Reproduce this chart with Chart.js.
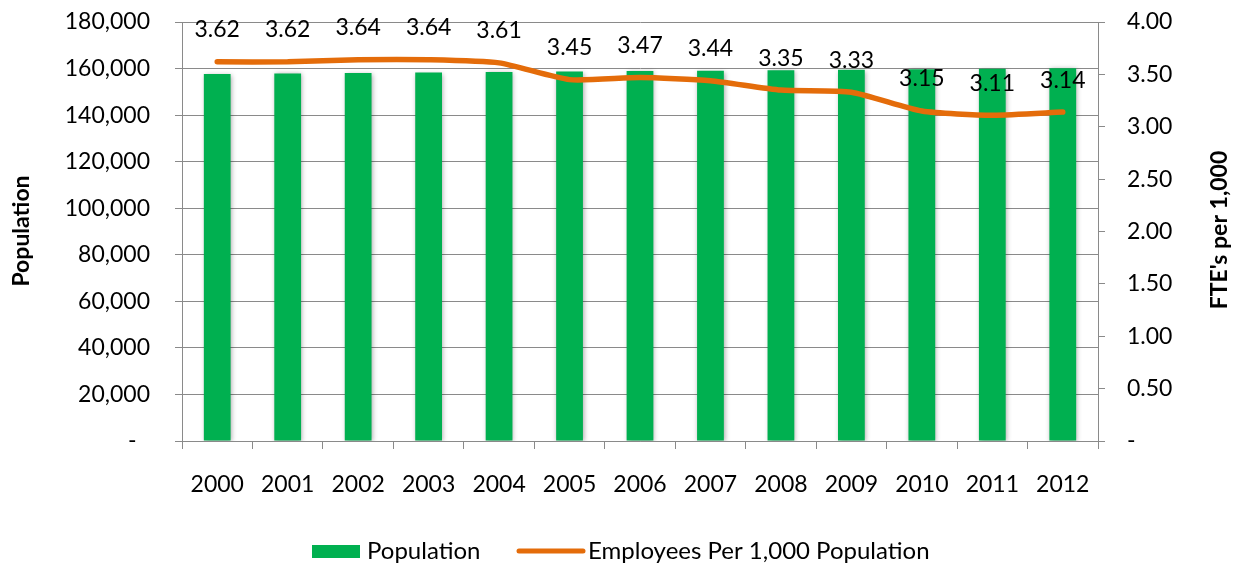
<!DOCTYPE html>
<html>
<head>
<meta charset="utf-8">
<script src="https://cdn.jsdelivr.net/npm/chart.js@4/dist/chart.umd.min.js"></script>
<style>
  html, body { margin: 0; padding: 0; background: #fff; }
  #wrap { width: 1235px; height: 567px; }
</style>
</head>
<body>
<div id="wrap"><canvas id="myChart" width="1235" height="567"></canvas></div>
<script>
//chart data
var years = ['2000', '2001', '2002', '2003', '2004', '2005', '2006', '2007', '2008', '2009', '2010', '2011', '2012'];
var population = [157700, 157900, 158100, 158300, 158500, 158700, 158900, 159100, 159300, 159500, 159700, 159900, 160100];
var employeesPer1000 = [3.62, 3.62, 3.64, 3.64, 3.61, 3.45, 3.47, 3.44, 3.35, 3.33, 3.15, 3.11, 3.14];
var popTicks = [0, 20000, 40000, 60000, 80000, 100000, 120000, 140000, 160000, 180000];
var fteTicks = [0, 0.5, 1, 1.5, 2, 2.5, 3, 3.5, 4];

var FONT = 'Lato, "Noto Sans", sans-serif';
var GREEN = '#00b050';
var ORANGE = '#e46c0a';
var GRID = '#8a8a8a';

//soft shadow under the bars
var barShadow = {
    id: 'barShadow',
    beforeDatasetDraw: function(chart, args){
        if(args.meta.type !== 'bar') return;
        var ctx = chart.ctx;
        ctx.save();
        ctx.shadowColor = 'rgba(0,0,0,0.35)';
        ctx.shadowBlur = 5;
        ctx.shadowOffsetX = 1;
        ctx.shadowOffsetY = 1;
    },
    afterDatasetDraw: function(chart, args){
        if(args.meta.type !== 'bar') return;
        chart.ctx.restore();
    }
};

//value labels over the line
var lineLabels = {
    id: 'lineLabels',
    afterDatasetsDraw: function(chart){
        var ctx = chart.ctx;
        var meta = chart.getDatasetMeta(1);
        ctx.save();
        ctx.font = '23px ' + FONT;
        ctx.fillStyle = '#000';
        ctx.textAlign = 'center';
        ctx.textBaseline = 'middle';
        meta.data.forEach(function(pt, i){
            ctx.fillText(employeesPer1000[i].toFixed(2), pt.x, pt.y - 32);
        });
        ctx.restore();
    }
};

//axis titles (both read bottom to top) and legend
var extras = {
    id: 'extras',
    afterDraw: function(chart){
        var ctx = chart.ctx;
        ctx.save();
        ctx.fillStyle = '#000';
        ctx.font = 'bold 23px ' + FONT;
        ctx.textAlign = 'center';
        ctx.textBaseline = 'middle';
        [['Population', 22, 231], ["FTE's per 1,000", 1220, 230]].forEach(function(t){
            ctx.save();
            ctx.translate(t[1], t[2]);
            ctx.rotate(-Math.PI / 2);
            ctx.fillText(t[0], 0, 0);
            ctx.restore();
        });

        var ds = chart.data.datasets;
        var y = 551;
        var x = 312;
        ctx.font = '24px ' + FONT;
        ctx.textAlign = 'left';
        ctx.fillStyle = ds[0].backgroundColor;
        ctx.fillRect(x, y - 6, 48, 13);
        ctx.fillStyle = '#000';
        ctx.fillText(ds[0].label, x + 55, y);
        x = 517;
        ctx.strokeStyle = ds[1].borderColor;
        ctx.lineWidth = 5;
        ctx.lineCap = 'round';
        ctx.beginPath();
        ctx.moveTo(x + 2, y);
        ctx.lineTo(x + 66, y);
        ctx.stroke();
        ctx.fillText(ds[1].label, x + 71, y);
        ctx.restore();
    }
};

//fixed axis widths; drop the label padding from the vertical overhang
function fitY(width){
    return function(s){
        s.width = width;
        s.paddingTop = 14;
        s.paddingBottom = 14;
    };
}

var ctx = document.getElementById('myChart');
var myChart = new Chart(ctx, {
    type: 'bar',
    data: {
        labels: years,
        datasets: [{
            type: 'bar',
            label: 'Population',
            data: population,
            backgroundColor: GREEN,
            borderWidth: 0,
            barPercentage: 0.38,
            categoryPercentage: 1,
            yAxisID: 'y',
            order: 1
        }, {
            type: 'line',
            label: 'Employees Per 1,000 Population',
            data: employeesPer1000,
            borderColor: ORANGE,
            backgroundColor: ORANGE,
            borderWidth: 5.5,
            borderCapStyle: 'round',
            borderJoinStyle: 'round',
            pointRadius: 0,
            tension: 0.2,
            yAxisID: 'y2',
            order: 0
        }]
    },
    options: {
        responsive: false,
        animation: false,
        layout: { padding: { top: 22, bottom: 0, left: 0, right: 0 } },
        plugins: {
            legend: { display: false },
            tooltip: { enabled: false }
        },
        scales: {
            x: {
                grid: { offset: true, drawOnChartArea: false, drawTicks: true, tickLength: 8, color: GRID },
                border: { display: true, color: GRID },
                ticks: { font: { family: FONT, size: 23 }, color: '#000', padding: 22, maxRotation: 0 },
                afterFit: function(s){ s.height = 126; }
            },
            y: {
                position: 'left',
                min: 0,
                max: 180000,
                afterBuildTicks: function(s){ s.ticks = popTicks.map(function(v){ return { value: v }; }); },
                grid: { color: GRID, tickLength: 7 },
                border: { display: true, color: GRID },
                ticks: {
                    font: { family: FONT, size: 23 },
                    color: '#000',
                    padding: 25,
                    callback: function(v){ return v === 0 ? '-\u2007' : v.toLocaleString('en-US'); }
                },
                afterFit: fitY(182)
            },
            y2: {
                position: 'right',
                min: 0,
                max: 4,
                afterBuildTicks: function(s){ s.ticks = fteTicks.map(function(v){ return { value: v }; }); },
                grid: { drawOnChartArea: false, color: GRID, tickLength: 7 },
                border: { display: true, color: GRID },
                ticks: {
                    font: { family: FONT, size: 23 },
                    color: '#000',
                    padding: 22,
                    callback: function(v){ return v === 0 ? '-' : v.toFixed(2); }
                },
                afterFit: fitY(137)
            }
        }
    },
    plugins: [barShadow, lineLabels, extras]
});
</script>
</body>
</html>
